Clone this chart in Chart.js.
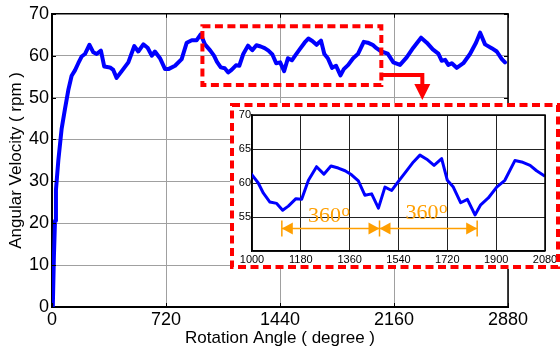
<!DOCTYPE html>
<html>
<head>
<meta charset="utf-8">
<script src="https://cdn.jsdelivr.net/npm/chart.js@4"></script>
<style>
  html, body { margin: 0; padding: 0; background: #fff; }
  #wrap { position: relative; width: 560px; height: 354px; }
  #mainChart { position: absolute; left: 0; top: 0; }
  #zoomChart { position: absolute; left: 230px; top: 103px; }
</style>
</head>
<body>
<div id="wrap">
  <canvas id="mainChart" width="560" height="354"></canvas>
  <canvas id="zoomChart" width="330" height="166"></canvas>
</div>
<script>
// rotation angle (degree) and angular velocity (rpm)
const angleDeg = [
  5, 12, 19, 25, 40, 61, 82, 103, 124, 145, 166, 187, 208, 236, 261, 282, 309, 330, 366, 387,
  408, 450, 482, 520, 545, 577, 604, 630, 650, 682, 714, 735, 777, 819, 851, 883, 914, 939, 966,
  1000, 1023, 1042, 1066, 1091, 1113, 1134, 1162, 1183, 1208, 1238, 1265, 1291, 1318, 1343, 1367,
  1392, 1416, 1441, 1466, 1490, 1515, 1539, 1564, 1595, 1619, 1644, 1671, 1699, 1720, 1742, 1769,
  1794, 1822, 1843, 1871, 1902, 1932, 1969, 1994, 2025, 2049, 2080, 2120, 2156, 2198, 2240, 2282,
  2331, 2367, 2405, 2440, 2461, 2483, 2503, 2525, 2556, 2598, 2640, 2678, 2704, 2735, 2777, 2809,
  2841, 2861
];
const speedRpm = [
  0, 12, 20.6, 28, 35, 42.6, 47.3, 51.8, 55.2, 56.5, 58.2, 59.8, 60.4, 62.6, 60.8, 60.4, 61.2, 57.4, 57.2, 56.6,
  54.7, 56.8, 58.4, 62.3, 61.0, 62.7, 61.9, 60.0, 61.0, 59.4, 56.8, 56.8, 57.6, 59.2, 63.1, 63.7, 63.7, 65.1, 62.7,
  61.2, 60.0, 58.5, 57.2, 57.0, 56.0, 56.6, 57.7, 57.6, 60.4, 62.4, 61.3, 62.5, 62.2, 61.8, 61.2,
  60.3, 58.2, 58.4, 56.3, 59.4, 58.9, 60.2, 61.5, 63.1, 64.1, 63.5, 62.6, 63.6, 60.4, 59.4, 57.1,
  57.6, 55.3, 56.8, 57.8, 59.4, 60.4, 63.3, 63.1, 62.6, 61.8, 61.0, 60.5, 58.4, 57.8, 59.6, 61.9,
  64.3, 63.1, 61.5, 60.5, 58.8, 59.0, 57.8, 58.2, 57.1, 58.2, 60.4, 63.1, 65.5, 62.7, 61.8, 61.0,
  59.2, 58.4
];

const mainXTicks = [0, 720, 1440, 2160, 2880];
const mainYTicks = [0, 10, 20, 30, 40, 50, 60, 70];
const zoomXTicks = [1000, 1180, 1360, 1540, 1720, 1900, 2080];
const zoomYTicks = [50, 55, 60, 65, 70];

// region enlarged in the inset
const zoomRange = [950, 2080];
const zoomLevels = [53, 67];

// one revolution marked in the inset
const periodStart = 1110;
const period = 360;
const periodMarks = [periodStart, periodStart + period, periodStart + 2 * period];
const periodLabel = String(period);

const points = angleDeg.map((a, i) => ({ x: a, y: speedRpm[i] }));
const BLUE = '#0000ff';
const RED = '#ff0000';
const ORANGE = '#ff9f00';
const SANS = '"Liberation Sans", Arial, sans-serif';
const SERIF = '"Liberation Serif", "Times New Roman", serif';

function fixTicks(list) {
  return axis => { axis.ticks = list.map(v => ({ value: v })); };
}
const plain = v => String(v);

// box outline with small inward ticks, drawn over the plot
function frame(chart, w, tickLen) {
  const { ctx, chartArea: a, scales } = chart;
  ctx.save();
  ctx.strokeStyle = '#000';
  ctx.lineWidth = w;
  ctx.beginPath();
  ctx.moveTo(a.left, a.top); ctx.lineTo(a.right, a.top); ctx.lineTo(a.right, a.bottom);
  ctx.stroke();
  ctx.lineWidth = 1;
  ctx.beginPath();
  scales.x.ticks.forEach(t => {
    const px = Math.round(scales.x.getPixelForValue(t.value)) + 0.5;
    ctx.moveTo(px, a.top); ctx.lineTo(px, a.top + tickLen);
    ctx.moveTo(px, a.bottom); ctx.lineTo(px, a.bottom - tickLen);
  });
  scales.y.ticks.forEach(t => {
    const py = Math.round(scales.y.getPixelForValue(t.value)) + 0.5;
    ctx.moveTo(a.left, py); ctx.lineTo(a.left + tickLen, py);
    ctx.moveTo(a.right, py); ctx.lineTo(a.right - tickLen, py);
  });
  ctx.stroke();
  ctx.restore();
}

const mainDecor = {
  id: 'mainDecor',
  afterDraw(chart) {
    frame(chart, 1.5, 4);
    const { ctx, scales: { x, y } } = chart;
    const x0 = x.getPixelForValue(zoomRange[0]), x1 = x.getPixelForValue(zoomRange[1]);
    const y0 = y.getPixelForValue(zoomLevels[1]), y1 = y.getPixelForValue(zoomLevels[0]);
    ctx.save();
    ctx.strokeStyle = RED;
    ctx.lineWidth = 4;
    ctx.setLineDash([8, 4.5]);
    ctx.strokeRect(x0, y0, x1 - x0, y1 - y0);
    // bent arrow pointing down to the inset
    ctx.setLineDash([]);
    const ay = y1 - 10, ax = x1 + 41;
    ctx.beginPath();
    ctx.moveTo(x1, ay); ctx.lineTo(ax, ay); ctx.lineTo(ax, ay + 12);
    ctx.stroke();
    ctx.fillStyle = RED;
    ctx.beginPath();
    ctx.moveTo(ax - 8, ay + 9); ctx.lineTo(ax + 8, ay + 9); ctx.lineTo(ax, ay + 25);
    ctx.closePath();
    ctx.fill();
    ctx.restore();
  }
};

new Chart(document.getElementById('mainChart'), {
  type: 'line',
  data: {
    datasets: [{
      data: points,
      borderColor: BLUE,
      borderWidth: 4,
      pointRadius: 0,
      tension: 0,
      borderJoinStyle: 'round',
      borderCapStyle: 'round'
    }]
  },
  options: {
    responsive: false,
    animation: false,
    events: [],
    layout: { padding: { left: 0, top: 11, right: 52, bottom: 0 } },
    plugins: { legend: { display: false }, tooltip: { enabled: false } },
    scales: {
      x: {
        type: 'linear', min: 0, max: 2880,
        afterBuildTicks: fixTicks(mainXTicks),
        afterFit: s => { s.height = 47; },
        grid: { color: '#a0a0a0', lineWidth: 1, drawTicks: false },
        border: { color: '#000', width: 2 },
        ticks: { color: '#000', font: { family: SANS, size: 18 }, padding: 2, maxRotation: 0,
                 callback: plain },
        title: { display: true, text: 'Rotation Angle ( degree )', color: '#000',
                 font: { family: SANS, size: 17 }, padding: { top: 0, bottom: 5 } }
      },
      y: {
        min: 0, max: 70,
        afterBuildTicks: fixTicks(mainYTicks),
        afterFit: s => { s.width = 52; },
        grid: { color: '#a0a0a0', lineWidth: 1, drawTicks: false },
        border: { color: '#000', width: 2 },
        ticks: { color: '#000', font: { family: SANS, size: 18 }, padding: 3, callback: plain },
        title: { display: true, text: 'Angular Velocity ( rpm )', color: '#000',
                 font: { family: SANS, size: 17 }, padding: { top: 6, bottom: 0 } }
      }
    }
  },
  plugins: [mainDecor]
});

function arrowHead(ctx, tipX, y, dir) {
  ctx.beginPath();
  ctx.moveTo(tipX, y);
  ctx.lineTo(tipX - dir * 11, y - 6);
  ctx.lineTo(tipX - dir * 11, y + 6);
  ctx.closePath();
  ctx.fill();
}

const zoomDecor = {
  id: 'zoomDecor',
  beforeDraw(chart) {
    const { ctx, width, height } = chart;
    ctx.save();
    ctx.fillStyle = '#fff';
    ctx.fillRect(0, 0, width, height);
    ctx.restore();
  },
  afterDraw(chart) {
    frame(chart, 1.5, 0);
    const { ctx, width, height, scales: { x, y } } = chart;
    ctx.save();
    // revolution spans
    const py = y.getPixelForValue(53.3);
    const px = periodMarks.map(v => x.getPixelForValue(v));
    ctx.strokeStyle = ORANGE;
    ctx.fillStyle = ORANGE;
    ctx.lineWidth = 1.5;
    ctx.beginPath();
    px.forEach(p => { ctx.moveTo(p, py - 8); ctx.lineTo(p, py + 8); });
    ctx.moveTo(px[0], py); ctx.lineTo(px[px.length - 1], py);
    ctx.stroke();
    for (let i = 0; i < px.length - 1; i++) {
      arrowHead(ctx, px[i], py, -1);
      arrowHead(ctx, px[i + 1], py, 1);
      const mid = (px[i] + px[i + 1]) / 2 - 2;
      ctx.font = '22px ' + SERIF;
      const w1 = ctx.measureText(periodLabel).width;
      ctx.font = '17px ' + SERIF;
      const w2 = ctx.measureText('o').width;
      const start = mid - (w1 + w2) / 2;
      const base = py - 7 + (i === 1 ? -3 : 0);
      ctx.textBaseline = 'alphabetic';
      ctx.textAlign = 'left';
      ctx.font = '22px ' + SERIF;
      ctx.fillText(periodLabel, start, base);
      ctx.font = '17px ' + SERIF;
      ctx.fillText('o', start + w1 + 0.5, base - 6);
    }
    // dashed outline of the inset
    ctx.strokeStyle = RED;
    ctx.lineWidth = 4;
    ctx.setLineDash([8, 4.5]);
    ctx.strokeRect(2, 2, width - 4, height - 4);
    ctx.restore();
  }
};

new Chart(document.getElementById('zoomChart'), {
  type: 'line',
  data: {
    datasets: [{
      data: points,
      borderColor: BLUE,
      borderWidth: 3,
      pointRadius: 0,
      tension: 0,
      borderJoinStyle: 'round'
    }]
  },
  options: {
    responsive: false,
    animation: false,
    events: [],
    layout: { padding: { left: 0, top: 12, right: 15, bottom: 0 } },
    plugins: { legend: { display: false }, tooltip: { enabled: false } },
    scales: {
      x: {
        type: 'linear', min: 1000, max: 2080,
        afterBuildTicks: fixTicks(zoomXTicks),
        afterFit: s => { s.height = 18; },
        grid: { color: '#222', lineWidth: 1, drawTicks: false },
        border: { color: '#000', width: 1.5 },
        ticks: { color: '#000', font: { family: SANS, size: 11 }, padding: 2, maxRotation: 0,
                 callback: plain }
      },
      y: {
        min: 50, max: 70,
        afterBuildTicks: fixTicks(zoomYTicks),
        afterFit: s => { s.width = 22; },
        grid: { color: '#222', lineWidth: 1, drawTicks: false },
        border: { color: '#000', width: 1.5 },
        ticks: { color: '#000', font: { family: SANS, size: 11 }, padding: 1,
                 callback: v => (v === 50 ? '' : String(v)) }
      }
    }
  },
  plugins: [zoomDecor]
});
</script>
</body>
</html>
